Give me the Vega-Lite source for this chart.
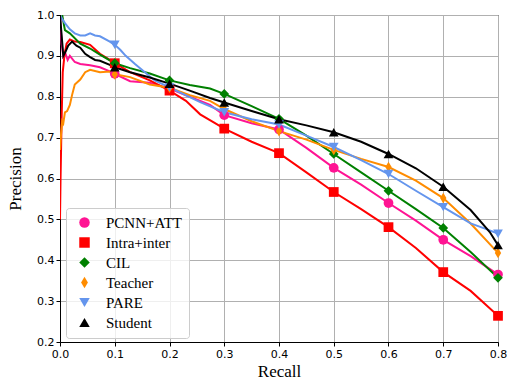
{
  "$schema": "https://vega.github.io/schema/vega-lite/v6.json",
  "autosize": {"type": "none"},
  "padding": {"left": 60, "top": 15, "right": 9, "bottom": 38},
  "width": 438,
  "height": 327,
  "config": {
    "view": {"stroke": "#000000", "strokeWidth": 1},
    "axis": {
      "grid": true, "gridColor": "#b0b0b0", "gridWidth": 1, "labelFlush": false,
      "domainColor": "#000000", "tickColor": "#000000", "tickSize": 4,
      "labelFont": "DejaVu Sans", "labelFontSize": 11, "labelColor": "#000000",
      "titleFont": "Liberation Serif", "titleFontSize": 17, "titleFontWeight": "normal", "titleColor": "#000000"
    },
    "legend": {
      "orient": "none", "legendX": 6, "legendY": 193,
      "padding": 7, "fillColor": "rgba(255,255,255,0.8)", "strokeColor": "#cccccc", "cornerRadius": 3,
      "labelFont": "Liberation Serif", "labelFontSize": 15, "labelColor": "#000000",
      "symbolSize": 110, "symbolStrokeWidth": 0, "rowPadding": 4, "labelOffset": 14, "symbolOffset": 4
    }
  },
  "datasets": {
    "pr": [
      {"model": "PCNN+ATT", "recall": 0, "precision": 1.0},
      {"model": "PCNN+ATT", "recall": 0.003, "precision": 0.93},
      {"model": "PCNN+ATT", "recall": 0.006, "precision": 0.9},
      {"model": "PCNN+ATT", "recall": 0.009, "precision": 0.91},
      {"model": "PCNN+ATT", "recall": 0.014, "precision": 0.89},
      {"model": "PCNN+ATT", "recall": 0.018, "precision": 0.9},
      {"model": "PCNN+ATT", "recall": 0.027, "precision": 0.885},
      {"model": "PCNN+ATT", "recall": 0.037, "precision": 0.88},
      {"model": "PCNN+ATT", "recall": 0.055, "precision": 0.877},
      {"model": "PCNN+ATT", "recall": 0.073, "precision": 0.872},
      {"model": "PCNN+ATT", "recall": 0.091, "precision": 0.862},
      {"model": "PCNN+ATT", "recall": 0.1, "precision": 0.856},
      {"model": "PCNN+ATT", "recall": 0.128, "precision": 0.838},
      {"model": "PCNN+ATT", "recall": 0.164, "precision": 0.834},
      {"model": "PCNN+ATT", "recall": 0.2, "precision": 0.82},
      {"model": "PCNN+ATT", "recall": 0.237, "precision": 0.8},
      {"model": "PCNN+ATT", "recall": 0.274, "precision": 0.78},
      {"model": "PCNN+ATT", "recall": 0.3, "precision": 0.755},
      {"model": "PCNN+ATT", "recall": 0.35, "precision": 0.735},
      {"model": "PCNN+ATT", "recall": 0.4, "precision": 0.72},
      {"model": "PCNN+ATT", "recall": 0.45, "precision": 0.675},
      {"model": "PCNN+ATT", "recall": 0.5, "precision": 0.626},
      {"model": "PCNN+ATT", "recall": 0.55, "precision": 0.585},
      {"model": "PCNN+ATT", "recall": 0.6, "precision": 0.54},
      {"model": "PCNN+ATT", "recall": 0.65, "precision": 0.497},
      {"model": "PCNN+ATT", "recall": 0.7, "precision": 0.45},
      {"model": "PCNN+ATT", "recall": 0.75, "precision": 0.41},
      {"model": "PCNN+ATT", "recall": 0.8, "precision": 0.365},

      {"model": "Intra+inter", "recall": 0, "precision": 0.5},
      {"model": "Intra+inter", "recall": 0.001, "precision": 0.6},
      {"model": "Intra+inter", "recall": 0.003, "precision": 0.75},
      {"model": "Intra+inter", "recall": 0.005, "precision": 0.86},
      {"model": "Intra+inter", "recall": 0.008, "precision": 0.9},
      {"model": "Intra+inter", "recall": 0.012, "precision": 0.93},
      {"model": "Intra+inter", "recall": 0.018, "precision": 0.94},
      {"model": "Intra+inter", "recall": 0.027, "precision": 0.935},
      {"model": "Intra+inter", "recall": 0.037, "precision": 0.934},
      {"model": "Intra+inter", "recall": 0.055, "precision": 0.927},
      {"model": "Intra+inter", "recall": 0.073, "precision": 0.905},
      {"model": "Intra+inter", "recall": 0.091, "precision": 0.89},
      {"model": "Intra+inter", "recall": 0.1, "precision": 0.882},
      {"model": "Intra+inter", "recall": 0.128, "precision": 0.86},
      {"model": "Intra+inter", "recall": 0.164, "precision": 0.84},
      {"model": "Intra+inter", "recall": 0.2, "precision": 0.815},
      {"model": "Intra+inter", "recall": 0.23, "precision": 0.79},
      {"model": "Intra+inter", "recall": 0.256, "precision": 0.757},
      {"model": "Intra+inter", "recall": 0.28, "precision": 0.738},
      {"model": "Intra+inter", "recall": 0.3, "precision": 0.722},
      {"model": "Intra+inter", "recall": 0.35, "precision": 0.69},
      {"model": "Intra+inter", "recall": 0.4, "precision": 0.662},
      {"model": "Intra+inter", "recall": 0.45, "precision": 0.615},
      {"model": "Intra+inter", "recall": 0.5, "precision": 0.567},
      {"model": "Intra+inter", "recall": 0.55, "precision": 0.525},
      {"model": "Intra+inter", "recall": 0.6, "precision": 0.481},
      {"model": "Intra+inter", "recall": 0.65, "precision": 0.43},
      {"model": "Intra+inter", "recall": 0.7, "precision": 0.371},
      {"model": "Intra+inter", "recall": 0.75, "precision": 0.325},
      {"model": "Intra+inter", "recall": 0.8, "precision": 0.264},

      {"model": "CIL", "recall": 0.004, "precision": 1.0},
      {"model": "CIL", "recall": 0.009, "precision": 0.963},
      {"model": "CIL", "recall": 0.018, "precision": 0.955},
      {"model": "CIL", "recall": 0.037, "precision": 0.93},
      {"model": "CIL", "recall": 0.055, "precision": 0.918},
      {"model": "CIL", "recall": 0.073, "precision": 0.903},
      {"model": "CIL", "recall": 0.1, "precision": 0.882},
      {"model": "CIL", "recall": 0.128, "precision": 0.87},
      {"model": "CIL", "recall": 0.164, "precision": 0.857},
      {"model": "CIL", "recall": 0.2, "precision": 0.84},
      {"model": "CIL", "recall": 0.237, "precision": 0.829},
      {"model": "CIL", "recall": 0.274, "precision": 0.82},
      {"model": "CIL", "recall": 0.3, "precision": 0.807},
      {"model": "CIL", "recall": 0.35, "precision": 0.777},
      {"model": "CIL", "recall": 0.4, "precision": 0.746},
      {"model": "CIL", "recall": 0.45, "precision": 0.705},
      {"model": "CIL", "recall": 0.5, "precision": 0.66},
      {"model": "CIL", "recall": 0.55, "precision": 0.615},
      {"model": "CIL", "recall": 0.6, "precision": 0.57},
      {"model": "CIL", "recall": 0.65, "precision": 0.525},
      {"model": "CIL", "recall": 0.7, "precision": 0.479},
      {"model": "CIL", "recall": 0.75, "precision": 0.42},
      {"model": "CIL", "recall": 0.8, "precision": 0.357},

      {"model": "Teacher", "recall": 0, "precision": 0.67},
      {"model": "Teacher", "recall": 0.002, "precision": 0.71},
      {"model": "Teacher", "recall": 0.004, "precision": 0.74},
      {"model": "Teacher", "recall": 0.006, "precision": 0.735},
      {"model": "Teacher", "recall": 0.009, "precision": 0.762},
      {"model": "Teacher", "recall": 0.013, "precision": 0.765},
      {"model": "Teacher", "recall": 0.018, "precision": 0.78},
      {"model": "Teacher", "recall": 0.022, "precision": 0.804},
      {"model": "Teacher", "recall": 0.027, "precision": 0.83},
      {"model": "Teacher", "recall": 0.037, "precision": 0.842},
      {"model": "Teacher", "recall": 0.046, "precision": 0.86},
      {"model": "Teacher", "recall": 0.055, "precision": 0.866},
      {"model": "Teacher", "recall": 0.073, "precision": 0.86},
      {"model": "Teacher", "recall": 0.091, "precision": 0.862},
      {"model": "Teacher", "recall": 0.1, "precision": 0.855},
      {"model": "Teacher", "recall": 0.128, "precision": 0.848},
      {"model": "Teacher", "recall": 0.164, "precision": 0.83},
      {"model": "Teacher", "recall": 0.2, "precision": 0.822},
      {"model": "Teacher", "recall": 0.237, "precision": 0.804},
      {"model": "Teacher", "recall": 0.274, "precision": 0.79},
      {"model": "Teacher", "recall": 0.3, "precision": 0.77},
      {"model": "Teacher", "recall": 0.35, "precision": 0.74},
      {"model": "Teacher", "recall": 0.4, "precision": 0.716},
      {"model": "Teacher", "recall": 0.45, "precision": 0.695},
      {"model": "Teacher", "recall": 0.5, "precision": 0.67},
      {"model": "Teacher", "recall": 0.55, "precision": 0.648},
      {"model": "Teacher", "recall": 0.6, "precision": 0.628},
      {"model": "Teacher", "recall": 0.65, "precision": 0.595},
      {"model": "Teacher", "recall": 0.7, "precision": 0.552},
      {"model": "Teacher", "recall": 0.75, "precision": 0.49},
      {"model": "Teacher", "recall": 0.8, "precision": 0.418},

      {"model": "PARE", "recall": 0, "precision": 1.0},
      {"model": "PARE", "recall": 0.004, "precision": 0.99},
      {"model": "PARE", "recall": 0.009, "precision": 0.98},
      {"model": "PARE", "recall": 0.018, "precision": 0.965},
      {"model": "PARE", "recall": 0.027, "precision": 0.955},
      {"model": "PARE", "recall": 0.037, "precision": 0.95},
      {"model": "PARE", "recall": 0.046, "precision": 0.95},
      {"model": "PARE", "recall": 0.055, "precision": 0.955},
      {"model": "PARE", "recall": 0.064, "precision": 0.95},
      {"model": "PARE", "recall": 0.073, "precision": 0.948},
      {"model": "PARE", "recall": 0.091, "precision": 0.935},
      {"model": "PARE", "recall": 0.1, "precision": 0.927},
      {"model": "PARE", "recall": 0.11, "precision": 0.915},
      {"model": "PARE", "recall": 0.12, "precision": 0.9},
      {"model": "PARE", "recall": 0.137, "precision": 0.88},
      {"model": "PARE", "recall": 0.155, "precision": 0.86},
      {"model": "PARE", "recall": 0.173, "precision": 0.84},
      {"model": "PARE", "recall": 0.2, "precision": 0.823},
      {"model": "PARE", "recall": 0.256, "precision": 0.787},
      {"model": "PARE", "recall": 0.3, "precision": 0.762},
      {"model": "PARE", "recall": 0.35, "precision": 0.745},
      {"model": "PARE", "recall": 0.4, "precision": 0.732},
      {"model": "PARE", "recall": 0.45, "precision": 0.705},
      {"model": "PARE", "recall": 0.5, "precision": 0.677},
      {"model": "PARE", "recall": 0.55, "precision": 0.645},
      {"model": "PARE", "recall": 0.6, "precision": 0.611},
      {"model": "PARE", "recall": 0.65, "precision": 0.57},
      {"model": "PARE", "recall": 0.7, "precision": 0.53},
      {"model": "PARE", "recall": 0.75, "precision": 0.49},
      {"model": "PARE", "recall": 0.775, "precision": 0.478},
      {"model": "PARE", "recall": 0.8, "precision": 0.465},

      {"model": "Student", "recall": 0, "precision": 1.0},
      {"model": "Student", "recall": 0.003, "precision": 0.95},
      {"model": "Student", "recall": 0.006, "precision": 0.9},
      {"model": "Student", "recall": 0.01, "precision": 0.91},
      {"model": "Student", "recall": 0.015, "precision": 0.925},
      {"model": "Student", "recall": 0.022, "precision": 0.935},
      {"model": "Student", "recall": 0.03, "precision": 0.925},
      {"model": "Student", "recall": 0.037, "precision": 0.92},
      {"model": "Student", "recall": 0.046, "precision": 0.905},
      {"model": "Student", "recall": 0.055, "precision": 0.897},
      {"model": "Student", "recall": 0.064, "precision": 0.89},
      {"model": "Student", "recall": 0.073, "precision": 0.888},
      {"model": "Student", "recall": 0.091, "precision": 0.878},
      {"model": "Student", "recall": 0.1, "precision": 0.872},
      {"model": "Student", "recall": 0.128, "precision": 0.86},
      {"model": "Student", "recall": 0.164, "precision": 0.847},
      {"model": "Student", "recall": 0.2, "precision": 0.832},
      {"model": "Student", "recall": 0.237, "precision": 0.815},
      {"model": "Student", "recall": 0.274, "precision": 0.797},
      {"model": "Student", "recall": 0.3, "precision": 0.786},
      {"model": "Student", "recall": 0.35, "precision": 0.765},
      {"model": "Student", "recall": 0.4, "precision": 0.745},
      {"model": "Student", "recall": 0.45, "precision": 0.73},
      {"model": "Student", "recall": 0.5, "precision": 0.713},
      {"model": "Student", "recall": 0.55, "precision": 0.69},
      {"model": "Student", "recall": 0.6, "precision": 0.66},
      {"model": "Student", "recall": 0.65, "precision": 0.625},
      {"model": "Student", "recall": 0.7, "precision": 0.58},
      {"model": "Student", "recall": 0.75, "precision": 0.523},
      {"model": "Student", "recall": 0.785, "precision": 0.469},
      {"model": "Student", "recall": 0.8, "precision": 0.437}
    ]
  },
  "data": {"name": "pr"},
  "encoding": {
    "x": {"field": "recall", "type": "quantitative", "title": "Recall",
      "scale": {"domain": [0, 0.8], "nice": false, "zero": false},
      "axis": {"values": [0, 0.1, 0.2, 0.3, 0.4, 0.5, 0.6, 0.7, 0.8], "format": ".1f", "labelPadding": 2, "titlePadding": 4}},
    "y": {"field": "precision", "type": "quantitative", "title": "Precision",
      "scale": {"domain": [0.2, 1.0], "nice": false, "zero": false},
      "axis": {"values": [0.2, 0.3, 0.4, 0.5, 0.6, 0.7, 0.8, 0.9, 1.0], "format": ".1f", "labelPadding": 2, "titlePadding": 12}}
  },
  "resolve": {"legend": {"color": "independent", "shape": "independent"}},
  "layer": [
    {
      "mark": {"type": "line", "strokeWidth": 2, "clip": true},
      "encoding": {"color": {"field": "model", "type": "nominal", "legend": null,
        "scale": {"domain": ["PCNN+ATT", "Intra+inter", "CIL", "Teacher", "PARE", "Student"],
          "range": ["#ff1493", "#ff0000", "#008000", "#ff8c00", "#6495ed", "#000000"]}}}
    },
    {
      "transform": [{"filter": "datum.recall >= 0.1 && abs(datum.recall * 10 - round(datum.recall * 10)) < 0.000001"}],
      "mark": {"type": "point", "filled": true, "opacity": 1, "size": 95, "clip": false},
      "encoding": {
        "shape": {"field": "model", "type": "nominal",
          "scale": {"domain": ["PCNN+ATT", "Intra+inter", "CIL", "Teacher", "PARE", "Student"],
            "range": ["circle", "square", "diamond", "M0,-1.1L0.65,0L0,1.1L-0.65,0Z", "triangle-down", "triangle-up"]},
          "legend": null},
        "color": {"field": "model", "type": "nominal",
          "scale": {"domain": ["PCNN+ATT", "Intra+inter", "CIL", "Teacher", "PARE", "Student"],
            "range": ["#ff1493", "#ff0000", "#008000", "#ff8c00", "#6495ed", "#000000"]},
          "legend": {"title": null, "labelFont": "Liberation Serif", "labelFontSize": 15,
            "encode": {"symbols": {"update": {"shape": {"scale": "shape", "field": "value"}}}}}}
      }
    }
  ]
}
